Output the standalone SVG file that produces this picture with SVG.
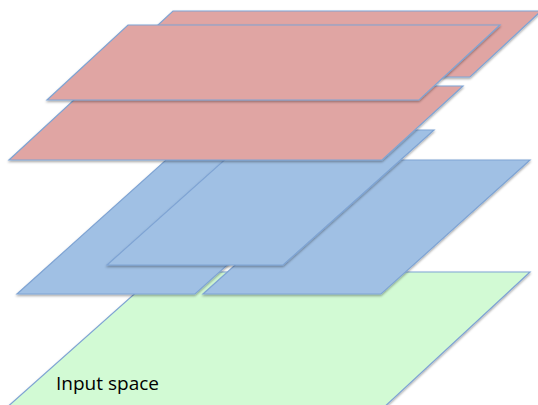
<svg xmlns="http://www.w3.org/2000/svg" width="538" height="405" viewBox="0 0 538 405">
  <defs>
    <filter id="sh" x="-10%" y="-10%" width="120%" height="130%">
      <feDropShadow dx="0" dy="1.5" stdDeviation="1" flood-color="#000" flood-opacity="0.35"/>
    </filter>
    <style>
      .plane { stroke: #7FA4D4; stroke-width: 1.2; stroke-linejoin: miter; filter: url(#sh); }
      .red { fill: #E0A5A3; }
      .blue { fill: #A0C0E4; }
      .green { fill: #D2FAD4; }
      .label { font-family: "Open Sans", "Liberation Sans", sans-serif; font-size: 18px; fill: #000; }
    </style>
  </defs>
  <rect width="538" height="405" fill="#fff"/>
  <g id="input-space">
    <polygon class="plane green" points="159,272 530,272 381,410 4,410"/>
    <text class="label" x="56" y="390" textLength="103" lengthAdjust="spacingAndGlyphs">Input space</text>
  </g>
  <g id="blue-right">
    <polygon class="plane blue" points="352,160 530,160 381,294 203,294"/>
  </g>
  <g id="blue-left">
    <polygon class="plane blue" points="166,160 344,160 195,294 17,294"/>
  </g>
  <g id="blue-small">
    <polygon class="plane blue" points="258,130 434,130 283,265 107,265"/>
  </g>
  <g id="red-back">
    <polygon class="plane red" points="173,11 541,11 470,77 102,77"/>
  </g>
  <g id="red-second">
    <polygon class="plane red" points="89,86 463,86 382,160 9,160"/>
  </g>
  <g id="red-front">
    <polygon class="plane red" points="128,25 500,25 419,100 47,100"/>
  </g>
  <g id="connectors"></g>
</svg>
